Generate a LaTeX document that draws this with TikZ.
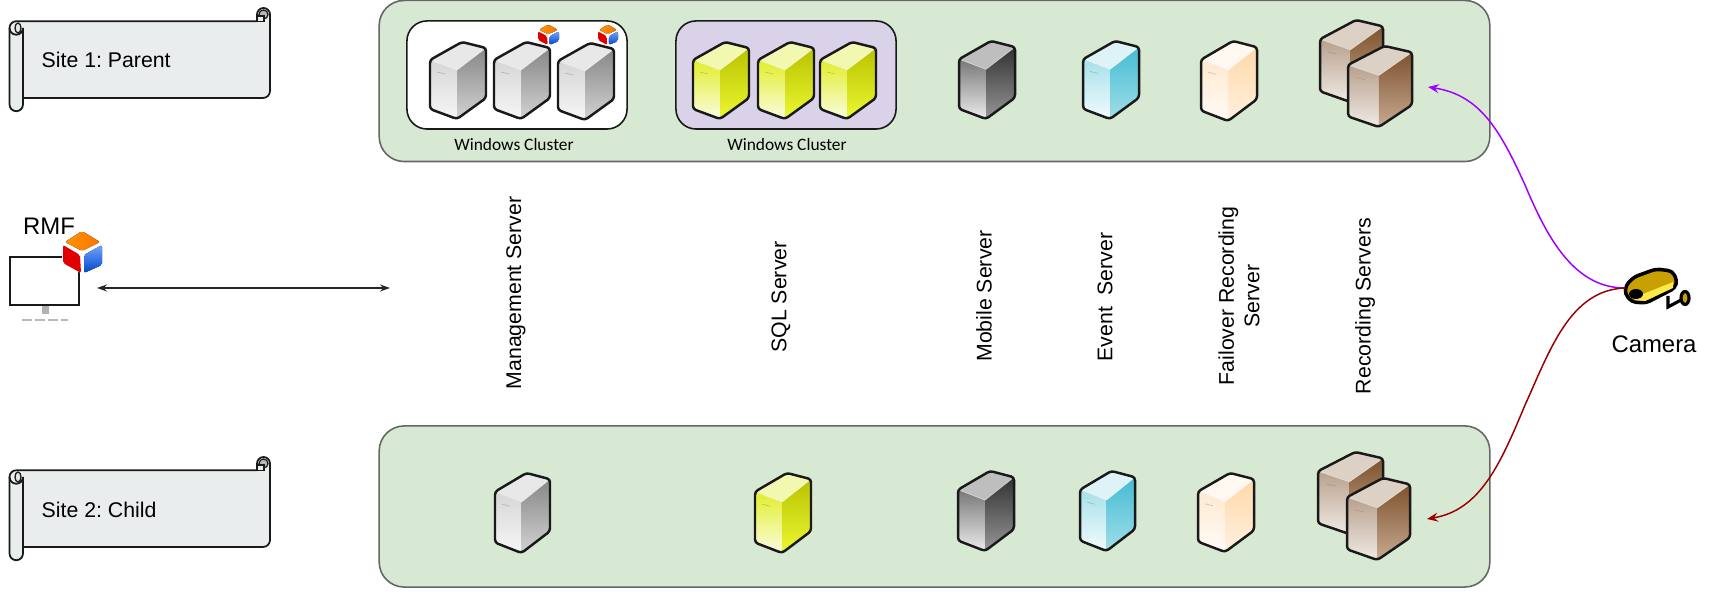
\documentclass[tikz,border=0pt]{standalone}
\usepackage{fontspec}
\setmainfont{Liberation Sans}
\newfontfamily\clusterfont{Carlito}
\frenchspacing
\usetikzlibrary{arrows.meta,positioning}
\definecolor{panelgreen}{RGB}{216,233,211}
\definecolor{panelgray}{RGB}{102,102,102}
\definecolor{clusterlilac}{RGB}{217,210,232}
\definecolor{scrollgray}{RGB}{233,237,238}
\definecolor{linkpurple}{RGB}{160,0,255}
\definecolor{linkred}{RGB}{153,0,0}
\definecolor{camgold}{RGB}{200,160,0}
\definecolor{camlight}{RGB}{255,232,74}
% server colours: top face, left face (2), right face (3)
\definecolor{srvgreyA}{RGB}{232,232,232}
\definecolor{srvgreyB}{RGB}{214,214,214}
\definecolor{srvgreyC}{RGB}{246,246,246}
\definecolor{srvgreyD}{RGB}{135,135,135}
\definecolor{srvgreyM}{RGB}{165,165,165}
\definecolor{srvgreyE}{RGB}{210,210,210}
\definecolor{srvyellowA}{RGB}{243,248,176}
\definecolor{srvyellowB}{RGB}{226,238,40}
\definecolor{srvyellowC}{RGB}{251,252,226}
\definecolor{srvyellowD}{RGB}{185,194,0}
\definecolor{srvyellowM}{RGB}{226,240,0}
\definecolor{srvyellowE}{RGB}{236,248,50}
\definecolor{srvdarkA}{RGB}{190,190,190}
\definecolor{srvdarkB}{RGB}{120,120,120}
\definecolor{srvdarkC}{RGB}{235,235,235}
\definecolor{srvdarkD}{RGB}{50,50,50}
\definecolor{srvdarkM}{RGB}{62,62,62}
\definecolor{srvdarkE}{RGB}{150,150,150}
\definecolor{srvcyanA}{RGB}{221,243,248}
\definecolor{srvcyanB}{RGB}{166,224,234}
\definecolor{srvcyanC}{RGB}{242,251,253}
\definecolor{srvcyanD}{RGB}{69,188,210}
\definecolor{srvcyanM}{RGB}{100,200,220}
\definecolor{srvcyanE}{RGB}{160,222,233}
\definecolor{srvcreamA}{RGB}{255,248,240}
\definecolor{srvcreamB}{RGB}{255,233,208}
\definecolor{srvcreamC}{RGB}{255,251,247}
\definecolor{srvcreamD}{RGB}{255,217,168}
\definecolor{srvcreamM}{RGB}{255,224,186}
\definecolor{srvcreamE}{RGB}{255,240,224}
\definecolor{srvbrownA}{RGB}{221,208,196}
\definecolor{srvbrownB}{RGB}{184,160,140}
\definecolor{srvbrownC}{RGB}{240,234,229}
\definecolor{srvbrownD}{RGB}{125,82,46}
\definecolor{srvbrownM}{RGB}{142,98,62}
\definecolor{srvbrownE}{RGB}{200,170,145}
\tikzset{
  sitepanel/.style={draw=panelgray,line width=0.45pt,fill=panelgreen,rounded corners=0.25cm,inner sep=0pt,minimum width=11.1cm,minimum height=1.61cm},
  clusterbox/.style={draw=black!90,line width=0.45pt,rounded corners=0.2cm,inner sep=0pt,minimum width=2.2cm,minimum height=1.08cm},
  clusterlabel/.style={font=\clusterfont\fontsize{4.95}{5.8}\selectfont,inner sep=0pt},
  plainlabel/.style={font=\fontsize{6.05}{7.2}\selectfont,inner sep=0pt,align=center},
  biglabel/.style={font=\fontsize{6.8}{8}\selectfont,inner sep=0pt},
  rolelabel/.style={plainlabel,rotate=90},
  rmflink/.style={line width=0.42pt,black!85,{Stealth[length=0.1cm,width=0.07cm]}-{Stealth[length=0.1cm,width=0.07cm]}},
  camlink/.style={line width=0.42pt,-{Stealth[length=0.11cm,width=0.09cm,inset=0.04cm]}},
}
% x, y of the top left corner, width, height, colour set
\newcommand{\serverbox}[5]{%
  \begin{scope}[shift={(#1,#2)},xscale=#3/56,yscale=#4/77]
    \begin{scope}
      \clip[rounded corners=0.03cm] (0,18) -- (32,0) -- (56,6) -- (56,56) -- (27,77) -- (0,67) -- cycle;
      \fill[top color=srv#5B,bottom color=srv#5C] (0,18) -- (27,28) -- (27,77) -- (0,67) -- cycle;
      \fill[top color=srv#5D,middle color=srv#5M,bottom color=srv#5E] (27,6) -- (56,6) -- (56,77) -- (27,77) -- cycle;
      \fill[srv#5A] (0,18) -- (32,0) -- (56,6) -- (27,28) -- cycle;
      \draw[white,opacity=0.5,line width=0.2pt] (0,18) -- (27,28) -- (56,6);
      \draw[black!50,opacity=0.5,line width=0.15pt] (7,30) -- (15,32);
    \end{scope}
    \draw[black!90,line width=0.7pt,rounded corners=0.03cm] (0,18) -- (32,0) -- (56,6) -- (56,56) -- (27,77) -- (0,67) -- cycle;
  \end{scope}}
% x, y of the top left corner, width, height
\newcommand{\cubeicon}[4]{%
  \begin{scope}[shift={(#1,#2)},xscale=#3/39,yscale=#4/43]
    \fill[white] (19,-1) -- (40,12) -- (40,35) -- (20,44) -- (-1,33) -- (-1,13) -- cycle;
    \fill[left color=orange!85!yellow,right color=orange!90!red,rounded corners=0.02cm] (19,1) -- (37,12) -- (19,21) -- (2,12) -- cycle;
    \fill[red!88!black,rounded corners=0.02cm] (0,15) -- (17,25) -- (18,43) -- (0,33) -- cycle;
    \fill[top color=cyan!35!blue!55,bottom color=blue!65!cyan!80!black,rounded corners=0.02cm] (21,25) -- (39,15) -- (39,35) -- (21,43) -- cycle;
  \end{scope}}
% vertical offset of the scroll
\newcommand{\sitescroll}[1]{%
  \begin{scope}[shift={(0,#1)}]
    \draw[black!90,line width=0.5pt,fill=scrollgray,line join=round] (9.5,28) arc (180:270:6.75) -- (257,21.25) -- (257,14.5) arc (180:360:6.5) -- (270,91) arc (0:90:7) -- (23,98) -- (23,104.5) arc (0:180:6.75) -- cycle;
    \draw[black!90,line width=0.5pt] (9.5,28) arc (180:0:6.75) -- (23,98);
    \draw[black!90,line width=0.35pt,fill=gray!20] (18,28) ellipse (3 and 5);
    \draw[black!90,line width=0.35pt,fill=gray!55] (263.5,14.5) circle (4.5);
    \draw[black!90,line width=0.35pt,fill=scrollgray] (257,16) rectangle (264,21.25);
  \end{scope}}
\begin{document}
\begin{tikzpicture}[x=0.01cm,y=-0.01cm]
  \useasboundingbox (0,0) rectangle (1710,592);
  % Site scrolls
  \sitescroll{0}
  \node[plainlabel,anchor=west] (parentname) at (41,60) {Site 1: Parent};
  \sitescroll{449}
  \node[plainlabel,anchor=west] (childname) at (41,510) {Site 2: Child};
  % Site panels
  \node[sitepanel] (parentpanel) at (934.5,81) {};
  \node[sitepanel] (childpanel) at (934.5,506.5) {};
  % Clusters of the parent site
  \node[clusterbox,fill=white] (whitecluster) at (517,75) {};
  \node[clusterbox,fill=clusterlilac] (lilaccluster) at (786,75) {};
  \node[clusterlabel] (whitename) at (514,145) {Windows Cluster};
  \node[clusterlabel] (lilacname) at (787,145) {Windows Cluster};
  % Servers of the parent site
  \serverbox{430}{42}{56}{77}{grey}
  \serverbox{494}{42}{56}{77}{grey}
  \serverbox{558}{43}{56}{77}{grey}
  \cubeicon{538}{24}{21}{21}
  \cubeicon{598}{24}{20}{21}
  \foreach \x in {693,758,820}
    \serverbox{\x}{42}{56}{77}{yellow};
  \serverbox{959}{41}{56}{78}{dark}
  \serverbox{1083}{41}{56}{78}{cyan}
  \serverbox{1201}{41}{56}{80}{cream}
  \serverbox{1320}{20}{63}{82}{brown}
  \serverbox{1348}{46}{64}{81}{brown}
  % Servers of the child site
  \serverbox{495}{473}{55}{80}{grey}
  \serverbox{755}{473}{56}{80}{yellow}
  \serverbox{958}{471}{56}{80}{dark}
  \serverbox{1080}{471}{55}{80}{cyan}
  \serverbox{1198}{473}{56}{79}{cream}
  \serverbox{1318}{452}{65}{82}{brown}
  \serverbox{1347}{478}{63}{82}{brown}
  % Server roles
  \node[rolelabel] (mgmtrole) at (516,293) {Management Server};
  \node[rolelabel] (sqlrole) at (781,297) {SQL Server};
  \node[rolelabel] (mobilerole) at (984,296) {Mobile Server};
  \node[rolelabel] (eventrole) at (1105,297) {Event\ \ Server};
  \node[rolelabel] (failoverrole) at (1239,296) {Failover Recording\\Server};
  \node[rolelabel] (recordrole) at (1365,306) {Recording Servers};
  % RMF workstation
  \node[biglabel] (rmfname) at (49,226) {RMF};
  \fill[gray!60] (42,305) rectangle (49,314);
  \draw[gray!55,line width=0.5pt,dash pattern=on 0.1cm off 0.03cm] (22,320) -- (68,320);
  \draw[black!90,line width=0.55pt,fill=white] (10,257) rectangle (79,305);
  \cubeicon{63}{230}{39}{43}
  \coordinate (rmfjack) at (97,288);
  \coordinate (panelsjack) at (390,288);
  \draw[rmflink] (rmfjack) -- (panelsjack);
  % Camera
  \draw[black,line width=1pt,fill=camgold,rounded corners=0.04cm] (1626,285) -- (1634,277) -- (1656,269) -- (1672,271) -- (1677,280) -- (1675,288) -- (1646,303) -- (1632,302) -- (1625,294) -- cycle;
  \fill[camlight] (1638,296) -- (1673,282) -- (1673,288) -- (1645,301) -- (1634,300) -- cycle;
  \fill[black] (1636,294) ellipse (7 and 5);
  \draw[black,line width=0.9pt] (1668,296) -- (1668,307) -- (1681,300);
  \draw[black,line width=0.9pt,fill=camgold] (1685,298) ellipse (4 and 6.5);
  \node[biglabel] (cameraname) at (1654,344) {Camera};
  \coordinate (camerajack) at (1625,288);
  \coordinate (parentrec) at (1428,87);
  \coordinate (childrec) at (1427,519);
  \draw[camlink,linkpurple] (camerajack) .. controls (1575,288) and (1548,240) .. (1525,185) .. controls (1500,130) and (1480,95) .. (parentrec);
  \draw[camlink,linkred] (camerajack) .. controls (1570,290) and (1550,350) .. (1525,405) .. controls (1500,465) and (1480,510) .. (childrec);
\end{tikzpicture}
\end{document}
